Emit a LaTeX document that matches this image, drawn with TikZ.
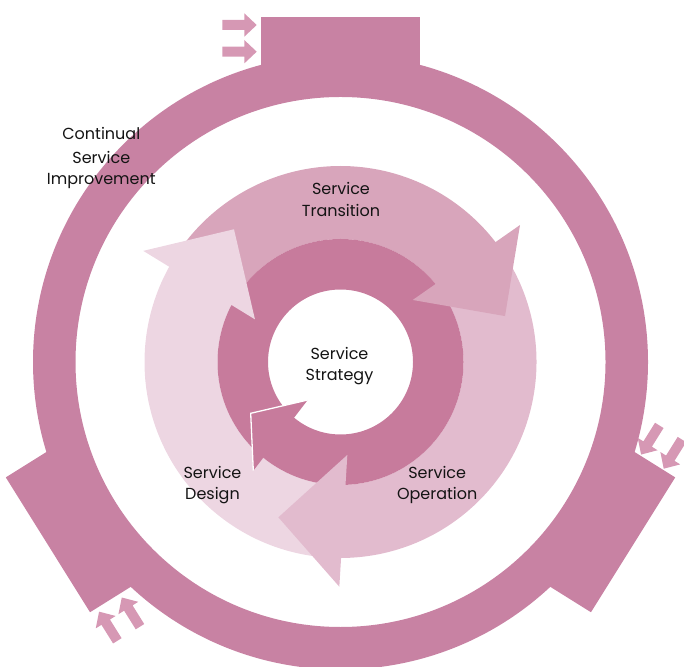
\documentclass[tikz,border=0pt]{standalone}
\usepackage{fontspec}
\setmainfont{Poppins}
\definecolor{ringc}{RGB}{200,130,163}
\definecolor{arrowc}{RGB}{214,152,180}
\definecolor{stratc}{RGB}{199,123,156}
\definecolor{transc}{RGB}{216,165,187}
\definecolor{operc}{RGB}{226,187,206}
\definecolor{designc}{RGB}{237,214,226}
\definecolor{textc}{RGB}{20,20,20}
\newcommand\smallarr[2]{\fill[arrowc, shift={(#1,#2)}] (-34.4,-5) -- (-12.4,-5) -- (-12.4,-11.7) -- (0,0) -- (-12.4,11.7) -- (-12.4,5) -- (-34.4,5) -- cycle;}
\tikzset{
  lbl/.style={anchor=base, inner sep=0pt, text=textc, font=\fontsize{16}{20}\selectfont}
}
\begin{document}
\begin{tikzpicture}[x=1pt,y=1pt]
\useasboundingbox (0,0) rectangle (684,666);
\clip (0,0) rectangle (684,666);
\coordinate (C) at (340.5,304);
% outer ring with three blocks and small arrows
\fill[ringc, even odd rule] (C) circle (307.5) (C) circle (265);
\foreach \rot/\dx/\dy in {0/0/0, -122/-7/0.8, 122/0/0} {
  \begin{scope}[shift={(C)}, rotate=\rot]
    \fill[ringc] (-79.5,270) rectangle (79.5,345);
  \end{scope}
  \begin{scope}[shift={(C)}, shift={(\dx,\dy)}, rotate=\rot]
    \smallarr{-83.8}{337}
    \smallarr{-83.8}{310.3}
  \end{scope}
}
\begin{scope}[shift={(C)}]
  % middle ring bodies
  \fill[transc] (147.1:196) arc[start angle=147.1, end angle=33.85, radius=196] -- (33.85:123) arc[start angle=33.85, end angle=147.1, radius=123] -- cycle;
  \fill[operc] (33.85:196) arc[start angle=33.85, end angle=-93.8, radius=196] -- (-93.8:123) arc[start angle=-93.8, end angle=33.85, radius=123] -- cycle;
  \fill[designc] (266.2:196) arc[start angle=266.2, end angle=147.1, radius=196] -- (147.1:123) arc[start angle=147.1, end angle=266.2, radius=123] -- cycle;
  % strategy ring
  \fill[stratc, even odd rule] (0,0) circle (123) (0,0) circle (72.5);
  % middle ring heads
  \fill[transc] (40.65:95.2) -- (37.35:225.8) -- (15.6:170.8) -- cycle;
  \fill[designc] (153.5:95.6) -- (150.6:226.4) -- (128.75:170.2) -- cycle;
  \fill[operc] (-85.8:93.2) -- (-90.3:224.7) -- (-111.8:167.3) -- cycle;
  % strategy head
  \fill[stratc] (-89.8,-51.3) -- (-32.8,-38) -- (-87.2,-108.7) -- cycle;
  \draw[white, line width=1.3pt, line join=miter] (-87.2,-108.7) -- (-89.8,-51.3) -- (-32.8,-38);
\end{scope}
% labels
\node[lbl] (csi1) at (101.3,526) {Continual};
\node[lbl] (csi2) at (101.3,502.7) {Service};
\node[lbl] (csi3) at (101.3,481) {Improvement};
\node[lbl] (st1) at (341,471) {Service};
\node[lbl] (st2) at (341,449.3) {Transition};
\node[lbl] (ss1) at (339.5,306) {Service};
\node[lbl] (ss2) at (339.5,285.3) {Strategy};
\node[lbl] (sd1) at (212.5,187.7) {Service};
\node[lbl] (sd2) at (212.5,166) {Design};
\node[lbl] (so1) at (437.2,187.7) {Service};
\node[lbl] (so2) at (437.2,166) {Operation};
\end{tikzpicture}
\end{document}
